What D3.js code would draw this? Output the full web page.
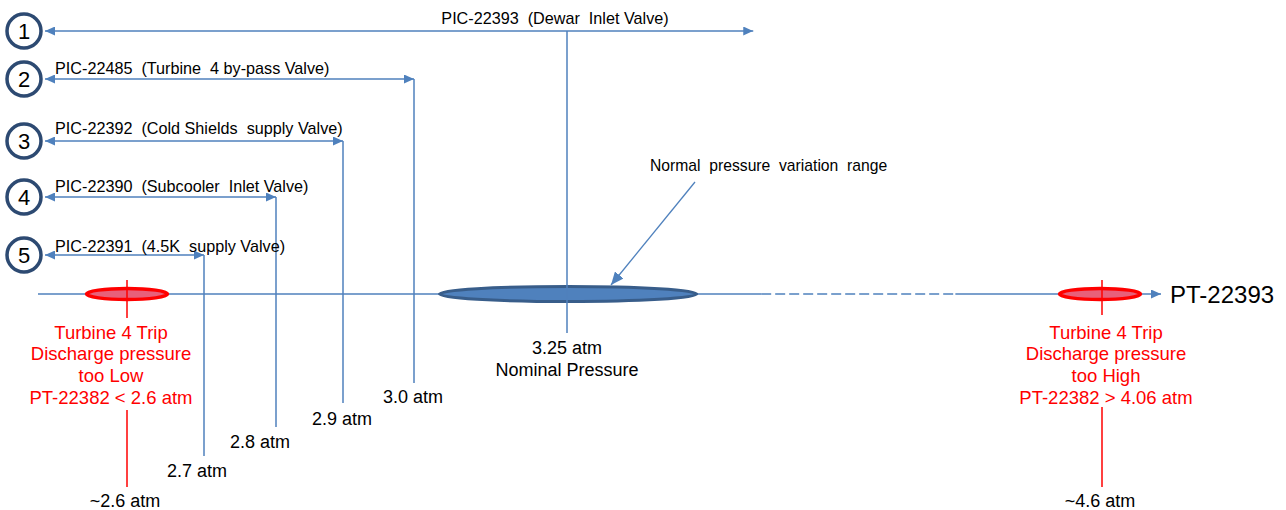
<!DOCTYPE html>
<html>
<head>
<meta charset="utf-8">
<script src="https://cdn.jsdelivr.net/npm/d3@7/dist/d3.min.js"></script>
<style>
  html, body { margin: 0; padding: 0; background: #fff; }
  svg { display: block; font-family: Arial, "Liberation Sans", sans-serif; }
</style>
</head>
<body>
<svg id="chart" width="1286" height="510"></svg>
<script>
// ---------- data ----------
const valveNumbers = [1, 2, 3, 4, 5];
const valveTags = ["PIC-22393", "PIC-22485", "PIC-22392", "PIC-22390", "PIC-22391"];
const valveNames = ["(Dewar  Inlet Valve)", "(Turbine  4 by-pass Valve)", "(Cold Shields  supply Valve)",
                    "(Subcooler  Inlet Valve)", "(4.5K  supply Valve)"];
const setpoints = [3.25, 3.0, 2.9, 2.8, 2.7];
const setpointLabels = [["3.25 atm", "Nominal Pressure"], ["3.0 atm"], ["2.9 atm"], ["2.8 atm"], ["2.7 atm"]];
const tripValues = [2.6, 4.6];
const tripValueLabels = ["~2.6 atm", "~4.6 atm"];
const tripTexts = [
  ["Turbine 4 Trip", "Discharge pressure", "too Low", "PT-22382 < 2.6 atm"],
  ["Turbine 4 Trip", "Discharge pressure", "too High", "PT-22382 > 4.06 atm"]
];
const normalRange = [3.04, 3.58];
const brokenRange = [3.74, 4.23];
const valve1ArrowEnd = 3.72;
const axisTitle = "PT-22393";
const rangeNote = "Normal  pressure  variation  range";

// ---------- layout ----------
const blue = "#4f81bd", darkBlue = "#385d8a", red = "#ff0000", navy = "#2d4a72";
const svg = d3.select("#chart");

// schematic (piecewise) pressure scale
const x = d3.scaleLinear()
  .domain([2.6, 2.7, 2.8, 2.9, 3.0, 3.25, 4.6])
  .range([127, 204, 276, 343, 414, 567, 1102]);

const axisY = 294;
const rowY = [31, 79, 141, 197, 255];
const rowLabelY = [18, 68, 128, 186, 246];
const lineBottom = [333, 383, 403, 427, 456];
const labelY = [347, 396, 418, 441, 470];
const labelDx = [0, -1, -1, -16, -7];

const defs = svg.append("defs");
function marker(id, w, h, color) {
  defs.append("marker")
    .attr("id", id)
    .attr("viewBox", `0 0 ${w} ${h}`)
    .attr("markerUnits", "userSpaceOnUse")
    .attr("markerWidth", w).attr("markerHeight", h)
    .attr("refX", w).attr("refY", h / 2)
    .attr("orient", "auto-start-reverse")
    .append("path")
    .attr("d", `M0,0L${w},${h / 2}L0,${h}Z`)
    .attr("fill", color);
}
marker("ab", 10, 9, blue);
marker("ap", 13, 11, blue);

// ---------- main axis ----------
const axisStart = 38, axisEnd = 1161;
const xb0 = x(brokenRange[0]), xb1 = x(brokenRange[1]);
svg.append("line").attr("x1", axisStart).attr("x2", xb0).attr("y1", axisY).attr("y2", axisY)
  .attr("stroke", blue).attr("stroke-width", 1.5);
svg.append("line").attr("x1", xb0).attr("x2", xb1).attr("y1", axisY).attr("y2", axisY)
  .attr("stroke", blue).attr("stroke-width", 1.5).attr("stroke-dasharray", "10,4");
svg.append("line").attr("x1", xb1).attr("x2", axisEnd).attr("y1", axisY).attr("y2", axisY)
  .attr("stroke", blue).attr("stroke-width", 1.5).attr("marker-end", "url(#ab)");
svg.append("text").attr("x", axisEnd + 9).attr("y", axisY + 8.5)
  .attr("font-size", 24).attr("fill", "#000").text(axisTitle);

// ---------- normal range ellipse ----------
svg.append("ellipse")
  .attr("cx", (x(normalRange[0]) + x(normalRange[1])) / 2).attr("cy", axisY)
  .attr("rx", (x(normalRange[1]) - x(normalRange[0])) / 2 - 1).attr("ry", 7.5)
  .attr("fill", blue).attr("stroke", darkBlue).attr("stroke-width", 3);

// ---------- trip ellipses and red markers ----------
const tripDx = [-16, 4];
tripValues.forEach((v, i) => {
  const cx = x(v);
  svg.append("ellipse").attr("cx", cx + (i === 0 ? 0 : -2)).attr("cy", axisY)
    .attr("rx", 40.5).attr("ry", 5.5)
    .attr("fill", "#e8607a").attr("stroke", red).attr("stroke-width", 3.5);
  svg.append("line").attr("x1", cx).attr("x2", cx).attr("y1", 280).attr("y2", i === 0 ? 318 : 315)
    .attr("stroke", red).attr("stroke-width", 1.5);
  svg.append("line").attr("x1", cx).attr("x2", cx).attr("y1", i === 0 ? 410 : 407).attr("y2", 487)
    .attr("stroke", red).attr("stroke-width", 1.5);
  const t = svg.append("text").attr("text-anchor", "middle").attr("fill", red).attr("font-size", 18.5);
  tripTexts[i].forEach((line, j) => {
    t.append("tspan").attr("x", cx + tripDx[i]).attr("y", 338.5 + j * 21.7).text(line);
  });
  svg.append("text").attr("x", cx - 2).attr("y", 506.5).attr("text-anchor", "middle")
    .attr("font-size", 18).attr("fill", "#000").text(tripValueLabels[i]);
});

// ---------- valve rows ----------
valveNumbers.forEach((n, i) => {
  const y = rowY[i];
  const xv = x(setpoints[i]);
  // circle
  svg.append("circle").attr("cx", 24).attr("cy", y).attr("r", 17)
    .attr("fill", "#fff").attr("stroke", navy).attr("stroke-width", 3.5);
  svg.append("text").attr("x", 24).attr("y", y + 7.5).attr("text-anchor", "middle")
    .attr("font-size", 22).attr("fill", "#000").text(n);
  // horizontal arrow
  const xEnd = i === 0 ? x(valve1ArrowEnd) : xv;
  svg.append("line").attr("x1", 45).attr("x2", xEnd).attr("y1", y).attr("y2", y)
    .attr("stroke", blue).attr("stroke-width", 1.5)
    .attr("marker-start", "url(#ab)").attr("marker-end", "url(#ab)");
  // vertical drop line
  svg.append("line").attr("x1", xv).attr("x2", xv).attr("y1", y).attr("y2", lineBottom[i])
    .attr("stroke", blue).attr("stroke-width", 1.5);
  // row label
  const lab = svg.append("text").attr("font-size", 16.2).attr("fill", "#000")
    .attr("y", rowLabelY[i] + 5.7).style("white-space", "pre");
  if (i === 0) lab.attr("x", xv - 12).attr("text-anchor", "middle");
  else lab.attr("x", 55);
  lab.text(valveTags[i] + "  " + valveNames[i]);
  // setpoint label(s)
  setpointLabels[i].forEach((s, j) => {
    svg.append("text").attr("x", xv + labelDx[i]).attr("y", labelY[i] + 6.5 + j * 22)
      .attr("text-anchor", "middle").attr("font-size", 18).attr("fill", "#000").text(s);
  });
});

// ---------- annotation ----------
svg.append("text").attr("x", 650).attr("y", 170.5).attr("font-size", 15.7)
  .attr("fill", "#000").style("white-space", "pre").text(rangeNote);
svg.append("line").attr("x1", 695).attr("y1", 182).attr("x2", 611).attr("y2", 285)
  .attr("stroke", blue).attr("stroke-width", 1.3).attr("marker-end", "url(#ap)");
</script>
</body>
</html>
